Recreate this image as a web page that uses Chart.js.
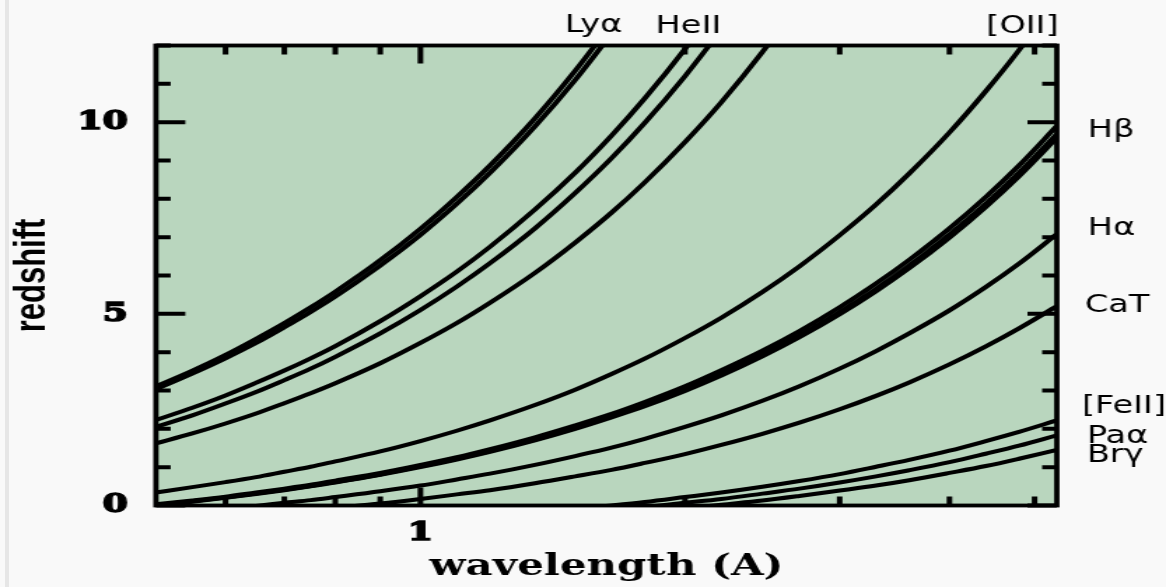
<!DOCTYPE html>
<html>
<head>
<meta charset="utf-8">
<script src="https://cdn.jsdelivr.net/npm/chart.js@4.4.1/dist/chart.umd.min.js"></script>
<style>
  html, body { margin: 0; padding: 0; background: #f9f9f9; overflow: hidden; width: 1166px; height: 587px; }
  #edge { position: absolute; left: 5px; top: 0; width: 4px; height: 587px; background: #e6e6e6; }
  #wrap { position: absolute; left: 0; top: 0; width: 833px; height: 587px;
          transform: scaleX(1.39976); transform-origin: 0 0; }
</style>
</head>
<body>
<div id="edge"></div>
<div id="wrap"><canvas id="chart" width="833" height="587"></canvas></div>
<script>
// ---- data (wavelength in micron, redshift) ----
const wavelengths = [0.5, 0.55, 0.6, 0.65, 0.7, 0.75, 0.8, 0.9, 1.0, 1.1, 1.2, 1.35, 1.5, 1.65, 1.8, 2.0, 2.2, 2.45, 2.7, 3.0, 3.3, 3.6, 4.0, 4.4, 4.8, 5.3];

const zLya   = [3.11,3.52,3.93,4.35,4.76,5.17,5.58,6.40,7.22,8.05,8.87,10.10,11.34,12.57,null,null,null,null,null,null,null,null,null,null,null,null];
const zNV    = [3.03,3.44,3.84,4.24,4.65,5.05,5.45,6.26,7.06,7.87,8.68,9.89,11.10,12.31,null,null,null,null,null,null,null,null,null,null,null,null];
const zCIV   = [2.23,2.55,2.87,3.20,3.52,3.84,4.16,4.81,5.46,6.10,6.75,7.72,8.68,9.65,10.62,11.91,13.20,null,null,null,null,null,null,null,null,null];
const zHeII  = [2.05,2.35,2.66,2.96,3.27,3.57,3.88,4.49,5.10,5.71,6.32,7.23,8.15,9.06,9.98,11.20,12.41,null,null,null,null,null,null,null,null,null];
const zCIII  = [1.62,1.88,2.14,2.40,2.67,2.93,3.19,3.71,4.24,4.76,5.29,6.07,6.86,7.64,8.43,9.48,10.52,11.83,13.14,null,null,null,null,null,null,null];
const zOII   = [0.34,0.48,0.61,0.74,0.88,1.01,1.15,1.41,1.68,1.95,2.22,2.62,3.02,3.43,3.83,4.37,4.90,5.57,6.24,7.05,7.85,8.66,9.73,10.81,11.88,13.22];
const zHb    = [0.03,0.13,0.23,0.34,0.44,0.54,0.65,0.85,1.06,1.26,1.47,1.78,2.09,2.39,2.70,3.11,3.53,4.04,4.55,5.17,5.79,6.41,7.23,8.05,8.87,9.90];
const zOIIIa = [0.01,0.11,0.21,0.31,0.41,0.51,0.61,0.81,1.02,1.22,1.42,1.72,2.02,2.33,2.63,3.03,3.44,3.94,4.44,5.05,5.65,6.26,7.07,7.87,8.68,9.69];
const zOIIIb = [0.00,0.10,0.20,0.30,0.40,0.50,0.60,0.80,1.00,1.20,1.40,1.70,2.00,2.30,2.59,2.99,3.39,3.89,4.39,4.99,5.59,6.19,6.99,7.79,8.59,9.59];
const zHa    = [null,null,-0.09,-0.01,0.07,0.14,0.22,0.37,0.52,0.68,0.83,1.06,1.29,1.51,1.74,2.05,2.35,2.73,3.11,3.57,4.03,4.49,5.09,5.70,6.31,7.08];
const zCaT   = [null,null,null,null,null,null,-0.06,0.05,0.17,0.29,0.40,0.58,0.76,0.93,1.11,1.34,1.58,1.87,2.16,2.51,2.86,3.21,3.68,4.15,4.62,5.20];
const zFeII  = [null,null,null,null,null,null,null,null,null,null,null,null,-0.09,0.00,0.09,0.22,0.34,0.49,0.64,0.82,1.01,1.19,1.43,1.68,1.92,2.22];
const zPaa   = [null,null,null,null,null,null,null,null,null,null,null,null,null,null,-0.04,0.07,0.17,0.31,0.44,0.60,0.76,0.92,1.13,1.35,1.56,1.83];
const zBrg   = [null,null,null,null,null,null,null,null,null,null,null,null,null,null,null,-0.08,0.02,0.13,0.25,0.39,0.52,0.66,0.85,1.03,1.22,1.45];

const seriesNames = ['Lya','NV','CIV','HeII','CIII]','[OII]','Hb','[OIII]4959','[OIII]5007','Ha','CaT','[FeII]','Paa','Brg'];
const seriesValues = [zLya, zNV, zCIV, zHeII, zCIII, zOII, zHb, zOIIIa, zOIIIb, zHa, zCaT, zFeII, zPaa, zBrg];

const xTickValues = [0.6, 0.7, 0.8, 0.9, 1, 2, 3, 4, 5];
const xTickLabels = ['', '', '', '', '1', '', '', '', ''];
const yTickValues = [0,1,2,3,4,5,6,7,8,9,10,11,12];
const yTickLabels = ['0','','','','','5','','','','','10','',''];

const lineLabels = ['Lyα', 'HeII', '[OII]', 'Hβ', 'Hα', 'CaT', '[FeII]', 'Paα', 'Brγ'];

// ---- styling / layout ----
const PLOT_BG = 'rgb(185,214,190)';
const labelLayout = [
  {x: 424.0, y: 32, align: 'center'},
  {x: 491.8, y: 33, align: 'center'},
  {x: 730.4, y: 33, align: 'center'},
  {x: 777.1, y: 137, align: 'left'},
  {x: 777.1, y: 235, align: 'left'},
  {x: 775.0, y: 312, align: 'left'},
  {x: 772.9, y: 413, align: 'left'},
  {x: 776.4, y: 443, align: 'left'},
  {x: 776.4, y: 462, align: 'left'}
];

const framePlugin = {
  id: 'frameTicks',
  beforeDatasetsDraw(chart) {
    const {ctx, chartArea: a} = chart;
    ctx.save();
    ctx.fillStyle = PLOT_BG;
    ctx.fillRect(a.left, a.top, a.right - a.left, a.bottom - a.top);
    ctx.restore();
  },
  afterDatasetsDraw(chart) {
    const {ctx, chartArea: a, scales} = chart;
    const x = scales.x, y = scales.y;
    ctx.save();
    ctx.strokeStyle = '#000';
    ctx.lineWidth = 4;
    ctx.beginPath();
    x.ticks.forEach((t) => {
      const px = x.getPixelForValue(t.value);
      const len = (t.label && t.label !== '') ? 18 : 9;
      ctx.moveTo(px, a.bottom); ctx.lineTo(px, a.bottom - len);
      ctx.moveTo(px, a.top); ctx.lineTo(px, a.top + len);
    });
    y.ticks.forEach((t) => {
      const py = y.getPixelForValue(t.value);
      const len = (t.label && t.label !== '') ? 21 : 10.5;
      ctx.moveTo(a.left, py); ctx.lineTo(a.left + len, py);
      ctx.moveTo(a.right, py); ctx.lineTo(a.right - len, py);
    });
    ctx.stroke();
    ctx.lineWidth = 3.8;
    ctx.strokeRect(a.left, a.top, a.right - a.left, a.bottom - a.top);
    ctx.restore();
  },
  afterDraw(chart) {
    const ctx = chart.ctx;
    ctx.save();
    ctx.fillStyle = '#000';
    ctx.font = '24px "DejaVu Sans"';
    ctx.textBaseline = 'alphabetic';
    lineLabels.forEach((txt, i) => {
      const p = labelLayout[i];
      ctx.textAlign = p.align;
      ctx.fillText(txt, p.x, p.y);
    });
    ctx.restore();
  }
};

const datasets = seriesValues.map((vals, i) => ({
  label: seriesNames[i],
  data: wavelengths.map((w, j) => ({x: w, y: vals[j]})),
  borderColor: '#000',
  borderWidth: 4,
  pointRadius: 0,
  fill: false,
  cubicInterpolationMode: 'monotone',
  spanGaps: false,
  clip: 0
}));

new Chart(document.getElementById('chart'), {
  type: 'line',
  data: { datasets },
  options: {
    responsive: false,
    animation: false,
    devicePixelRatio: 1,
    layout: { padding: { left: 0, right: 78, top: 45.5, bottom: 0 } },
    plugins: { legend: { display: false }, tooltip: { enabled: false } },
    scales: {
      x: {
        type: 'logarithmic',
        min: 0.5,
        max: 5.3,
        afterBuildTicks: (s) => { s.ticks = xTickValues.map(v => ({ value: v })); },
        afterFit: (s) => { s.height = 81.5; },
        grid: { display: false, drawTicks: false },
        border: { display: false },
        ticks: {
          autoSkip: false, maxRotation: 0, minRotation: 0, padding: 12,
          color: '#000', textStrokeColor: '#000', textStrokeWidth: 1.6,
          font: { family: '"DejaVu Serif"', size: 26, weight: 'bold' },
          callback: (v, i) => xTickLabels[i]
        },
        title: {
          display: true, text: 'wavelength (A)', color: '#000',
          font: { family: '"DejaVu Serif"', size: 30, weight: 'bold' },
          padding: { top: 0, bottom: 2 }
        }
      },
      y: {
        type: 'linear',
        min: 0,
        max: 12,
        afterBuildTicks: (s) => { s.ticks = yTickValues.map(v => ({ value: v })); },
        afterFit: (s) => { s.width = 111.4; },
        grid: { display: false, drawTicks: false },
        border: { display: false },
        ticks: {
          autoSkip: false, padding: 20, color: '#000',
          textStrokeColor: '#000', textStrokeWidth: 1.6,
          font: { family: '"DejaVu Serif"', size: 26, weight: 'bold' },
          callback: (v, i) => yTickLabels[i]
        },
        title: {
          display: true, text: 'redshift', color: '#000',
          font: { family: '"Liberation Sans"', size: 31, weight: 'bold' },
          padding: { top: 5, bottom: 0 }
        }
      }
    }
  },
  plugins: [framePlugin]
});
</script>
</body>
</html>
